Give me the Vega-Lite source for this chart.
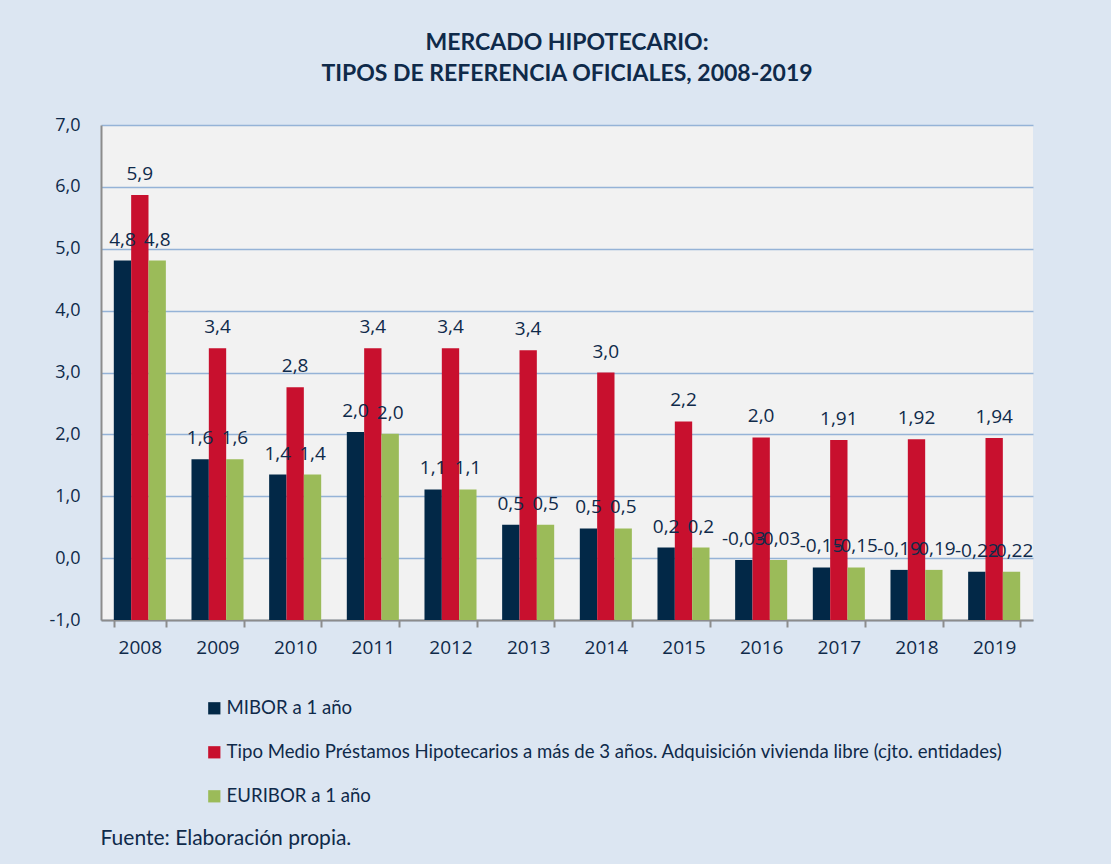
{
  "$schema": "https://vega.github.io/schema/vega-lite/v6.json",
  "width": 932,
  "height": 495,
  "autosize": {"type": "none"},
  "padding": {"left": 101, "top": 125, "right": 78, "bottom": 244},
  "background": "#dce6f2",
  "title": {
    "text": ["MERCADO HIPOTECARIO:", "TIPOS DE REFERENCIA OFICIALES, 2008-2019"],
    "font": "Lato",
    "fontSize": 23,
    "fontWeight": "bold",
    "color": "#0f2a4a",
    "lineHeight": 31,
    "anchor": "middle",
    "offset": 30
  },
  "data": {
    "values": [
      {"year": "2008", "serie": "MIBOR a 1 año", "value": 4.81, "label": "4,8"},
      {"year": "2008", "serie": "Tipo Medio Préstamos Hipotecarios a más de 3 años. Adquisición vivienda libre (cjto. entidades)", "value": 5.87, "label": "5,9"},
      {"year": "2008", "serie": "EURIBOR a 1 año", "value": 4.81, "label": "4,8"},
      {"year": "2009", "serie": "MIBOR a 1 año", "value": 1.6, "label": "1,6"},
      {"year": "2009", "serie": "Tipo Medio Préstamos Hipotecarios a más de 3 años. Adquisición vivienda libre (cjto. entidades)", "value": 3.39, "label": "3,4"},
      {"year": "2009", "serie": "EURIBOR a 1 año", "value": 1.6, "label": "1,6"},
      {"year": "2010", "serie": "MIBOR a 1 año", "value": 1.35, "label": "1,4"},
      {"year": "2010", "serie": "Tipo Medio Préstamos Hipotecarios a más de 3 años. Adquisición vivienda libre (cjto. entidades)", "value": 2.76, "label": "2,8"},
      {"year": "2010", "serie": "EURIBOR a 1 año", "value": 1.35, "label": "1,4"},
      {"year": "2011", "serie": "MIBOR a 1 año", "value": 2.04, "label": "2,0"},
      {"year": "2011", "serie": "Tipo Medio Préstamos Hipotecarios a más de 3 años. Adquisición vivienda libre (cjto. entidades)", "value": 3.39, "label": "3,4"},
      {"year": "2011", "serie": "EURIBOR a 1 año", "value": 2.01, "label": "2,0"},
      {"year": "2012", "serie": "MIBOR a 1 año", "value": 1.11, "label": "1,1"},
      {"year": "2012", "serie": "Tipo Medio Préstamos Hipotecarios a más de 3 años. Adquisición vivienda libre (cjto. entidades)", "value": 3.39, "label": "3,4"},
      {"year": "2012", "serie": "EURIBOR a 1 año", "value": 1.11, "label": "1,1"},
      {"year": "2013", "serie": "MIBOR a 1 año", "value": 0.54, "label": "0,5"},
      {"year": "2013", "serie": "Tipo Medio Préstamos Hipotecarios a más de 3 años. Adquisición vivienda libre (cjto. entidades)", "value": 3.36, "label": "3,4"},
      {"year": "2013", "serie": "EURIBOR a 1 año", "value": 0.54, "label": "0,5"},
      {"year": "2014", "serie": "MIBOR a 1 año", "value": 0.48, "label": "0,5"},
      {"year": "2014", "serie": "Tipo Medio Préstamos Hipotecarios a más de 3 años. Adquisición vivienda libre (cjto. entidades)", "value": 3.0, "label": "3,0"},
      {"year": "2014", "serie": "EURIBOR a 1 año", "value": 0.48, "label": "0,5"},
      {"year": "2015", "serie": "MIBOR a 1 año", "value": 0.17, "label": "0,2"},
      {"year": "2015", "serie": "Tipo Medio Préstamos Hipotecarios a más de 3 años. Adquisición vivienda libre (cjto. entidades)", "value": 2.21, "label": "2,2"},
      {"year": "2015", "serie": "EURIBOR a 1 año", "value": 0.17, "label": "0,2"},
      {"year": "2016", "serie": "MIBOR a 1 año", "value": -0.03, "label": "-0,03"},
      {"year": "2016", "serie": "Tipo Medio Préstamos Hipotecarios a más de 3 años. Adquisición vivienda libre (cjto. entidades)", "value": 1.95, "label": "2,0"},
      {"year": "2016", "serie": "EURIBOR a 1 año", "value": -0.03, "label": "-0,03"},
      {"year": "2017", "serie": "MIBOR a 1 año", "value": -0.15, "label": "-0,15"},
      {"year": "2017", "serie": "Tipo Medio Préstamos Hipotecarios a más de 3 años. Adquisición vivienda libre (cjto. entidades)", "value": 1.91, "label": "1,91"},
      {"year": "2017", "serie": "EURIBOR a 1 año", "value": -0.15, "label": "-0,15"},
      {"year": "2018", "serie": "MIBOR a 1 año", "value": -0.19, "label": "-0,19"},
      {"year": "2018", "serie": "Tipo Medio Préstamos Hipotecarios a más de 3 años. Adquisición vivienda libre (cjto. entidades)", "value": 1.92, "label": "1,92"},
      {"year": "2018", "serie": "EURIBOR a 1 año", "value": -0.19, "label": "-0,19"},
      {"year": "2019", "serie": "MIBOR a 1 año", "value": -0.22, "label": "-0,22"},
      {"year": "2019", "serie": "Tipo Medio Préstamos Hipotecarios a más de 3 años. Adquisición vivienda libre (cjto. entidades)", "value": 1.94, "label": "1,94"},
      {"year": "2019", "serie": "EURIBOR a 1 año", "value": -0.22, "label": "-0,22"}
    ]
  },
  "encoding": {
    "x": {
      "field": "year",
      "type": "nominal",
      "scale": {"paddingInner": 0.33, "paddingOuter": 0.165},
      "axis": {
        "title": "Fuente:  Elaboración propia.",
        "titleFont": "Lato",
        "titleFontSize": 21,
        "titleFontWeight": "normal",
        "titleColor": "#0f2a4a",
        "titleAnchor": "start",
        "titleAlign": "left",
        "titleBaseline": "middle",
        "titleX": -1,
        "titleY": 218,
        "labelAngle": 0,
        "labelFont": "Open Sans",
        "labelFontSize": 19,
        "labelColor": "#0f2a4a",
        "labelPadding": 11,
        "domainColor": "#8c8c8c",
        "domainWidth": 2,
        "tickColor": "#8c8c8c",
        "tickWidth": 2,
        "tickSize": 7,
        "tickBand": "extent",
        "grid": false
      }
    },
    "xOffset": {
      "field": "serie",
      "type": "nominal",
      "sort": ["MIBOR a 1 año", "Tipo Medio Préstamos Hipotecarios a más de 3 años. Adquisición vivienda libre (cjto. entidades)", "EURIBOR a 1 año"],
      "scale": {"paddingInner": 0, "paddingOuter": 0}
    },
    "y": {
      "field": "value",
      "type": "quantitative",
      "scale": {"domain": [-1, 7], "zero": false, "nice": false},
      "axis": {
        "title": null,
        "values": [-1, 0, 1, 2, 3, 4, 5, 6, 7],
        "labelExpr": "replace(replace(format(datum.value, '.1f'), '.', ','), '\u2212', '-')",
        "labelFont": "Open Sans",
        "labelFontSize": 18,
        "labelColor": "#0f2a4a",
        "labelPadding": 21,
        "ticks": false,
        "domainColor": "#8c8c8c",
        "domainWidth": 2,
        "gridColor": "#95b3d7",
        "gridWidth": 1.5
      }
    }
  },
  "layer": [
    {
      "mark": {"type": "bar"},
      "encoding": {
        "y2": {"datum": -1},
        "color": {
          "field": "serie",
          "type": "nominal",
          "sort": ["MIBOR a 1 año", "Tipo Medio Préstamos Hipotecarios a más de 3 años. Adquisición vivienda libre (cjto. entidades)", "EURIBOR a 1 año"],
          "scale": {"range": ["#022847", "#c8102e", "#9bbb59"]},
          "legend": {
            "title": null,
            "orient": "none",
            "legendX": 104,
            "legendY": 574,
            "direction": "vertical",
            "symbolType": "square",
            "symbolSize": 150,
            "symbolStrokeWidth": 0,
            "labelFont": "Lato",
            "labelFontSize": 18.6,
            "labelColor": "#0f2a4a",
            "labelLimit": 950,
            "labelOffset": 3,
            "rowPadding": 25
          }
        }
      }
    },
    {
      "mark": {"type": "text", "font": "Open Sans", "fontSize": 19, "color": "#0f2a4a", "baseline": "middle", "dy": -21},
      "encoding": {
        "text": {"field": "label"}
      }
    }
  ],
  "config": {
    "view": {"fill": "#f2f2f2", "stroke": null}
  }
}
